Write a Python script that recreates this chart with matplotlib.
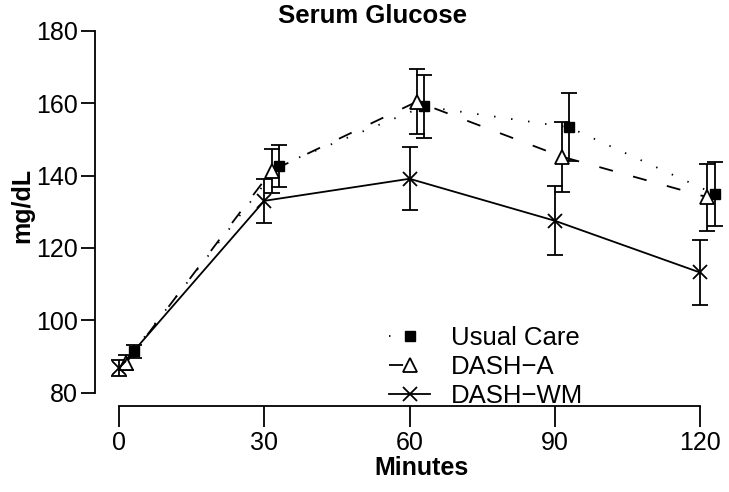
import matplotlib
matplotlib.use('Agg')
import matplotlib.pyplot as plt
from matplotlib.lines import Line2D
import numpy as np

plt.rcParams['font.family'] = ['Liberation Sans', 'DejaVu Sans']

# glucose (mg/dL), mean and error bar half-width
minutes = np.array([0, 30, 60, 90, 120])
usual_care = [91.5, 142.7, 159.1, 153.3, 134.9]
usual_care_err = [1.8, 5.8, 8.7, 9.4, 8.9]
dash_a = [88.3, 141.3, 160.4, 145.2, 134.0]
dash_a_err = [2.0, 6.0, 8.9, 9.7, 9.2]
dash_wm = [86.8, 133.0, 139.1, 127.5, 113.2]
dash_wm_err = [2.2, 6.0, 8.7, 9.5, 8.9]
labels = ['Usual Care', 'DASH\u2212A', 'DASH\u2212WM']
xticks = [0, 30, 60, 90, 120]
yticks = [80, 100, 120, 140, 160, 180]

fig = plt.figure(figsize=(7.29, 4.92), dpi=100)
ax = fig.add_axes([0.1303, 0.1740, 0.8632, 0.7782])

lw = 1.3
common = dict(color='black', ecolor='black', elinewidth=lw, capsize=6, capthick=lw, lw=lw)

# groups are shifted a little along x so the bars don't sit on top of each other
uc = ax.errorbar(minutes + 3, usual_care, yerr=usual_care_err, marker='s', ms=7.2,
                 mfc='black', mec='black', linestyle=(0, (0.8, 8.7)), label=labels[0], **common)
da = ax.errorbar(minutes + 1.5, dash_a, yerr=dash_a_err, marker='^', ms=10, mew=lw,
                 mfc='white', mec='black', linestyle=(0, (7.8, 11.6)), label=labels[1], **common)
wm = ax.errorbar(minutes, dash_wm, yerr=dash_wm_err, marker='x', ms=10, mew=1.3,
                 mec='black', linestyle='-', label=labels[2], **common)

ax.set_xlim(-4.96, 125)
ax.set_ylim(76.2, 182)
ax.set_xticks(xticks)
ax.set_yticks(yticks)
ax.spines['top'].set_visible(False)
ax.spines['right'].set_visible(False)
ax.spines['left'].set_bounds(80, 180)
ax.spines['bottom'].set_bounds(0, 120)
ax.spines['left'].set_linewidth(lw)
ax.spines['bottom'].set_linewidth(lw)
ax.tick_params(axis='x', length=15, width=lw, labelsize=18, pad=3)
ax.tick_params(axis='y', length=10, width=lw, labelsize=18, pad=2)

fig.text(372 / 729, 1 - 16 / 492, 'Serum Glucose', fontsize=18.5, fontweight='bold',
         ha='center', va='center')
fig.text(421 / 729, 1 - 468 / 492, 'Minutes', fontsize=18, fontweight='bold',
         ha='center', va='center')
fig.text(22 / 729, 1 - 205 / 492, 'mg/dL', fontsize=18, fontweight='bold',
         ha='center', va='center', rotation=90)

# legend keys: short segments like the original (one dot / one dash before the marker)
keys = [
    Line2D([], [], color='black', lw=lw, linestyle=(0, (0.8, 40)), marker='s', ms=7.2),
    Line2D([], [], color='black', lw=lw, linestyle=(0, (7.8, 40)), marker='^', ms=10,
           mfc='white', mew=lw),
    Line2D([], [], color='black', lw=lw, linestyle='-', marker='x', ms=10, mew=1.3),
]
ax.legend(handles=keys, labels=labels,
          loc='upper left', bbox_to_anchor=(389 / 729, 1 - 326 / 492),
          bbox_transform=fig.transFigure, frameon=False, fontsize=18.5,
          borderpad=0, borderaxespad=0, handlelength=1.6, handletextpad=0.8,
          labelspacing=0.2, numpoints=1)

fig.savefig('out.png', dpi=100)
